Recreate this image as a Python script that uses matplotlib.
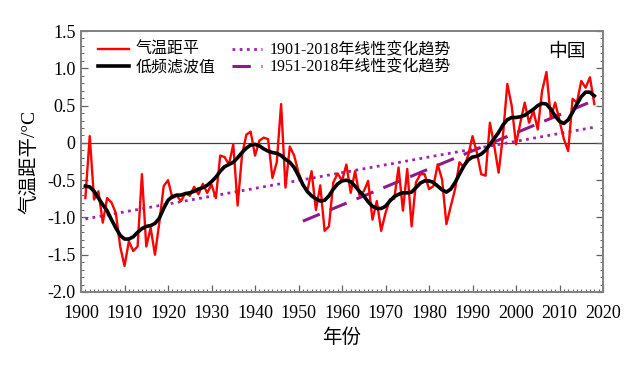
import matplotlib
matplotlib.use('Agg')
import matplotlib.pyplot as plt
from matplotlib.ticker import MultipleLocator, FixedLocator, FixedFormatter

plt.rcParams['font.family'] = ['Liberation Serif', 'Noto Sans CJK SC']
plt.rcParams['axes.unicode_minus'] = False

# Annual anomalies (red) and low-pass filtered values (black), 1901-2018
years = list(range(1901, 2019))
anomaly = [
    -0.74, 0.09, -0.76, -0.65, -1.07, -0.74, -0.80, -0.94, -1.39, -1.65,
    -1.32, -1.45, -1.39, -0.42, -1.39, -1.14, -1.50, -1.07, -0.58, -0.50,
    -0.74, -0.71, -0.78, -0.67, -0.71, -0.59, -0.69, -0.55, -0.67, -0.56,
    -0.74, -0.17, -0.19, -0.29, -0.02, -0.84, -0.17, 0.11, 0.15, -0.17,
    0.03, 0.07, 0.05, -0.47, -0.26, 0.52, -0.60, -0.05, -0.17, -0.40,
    -0.55, -0.65, -0.38, -0.90, -0.57, -1.18, -1.12, -0.53, -0.41, -0.51,
    -0.29, -0.67, -0.38, -0.70, -0.65, -0.51, -1.03, -0.78, -1.18, -0.94,
    -0.76, -0.75, -0.33, -0.91, -0.35, -1.12, -0.53, -0.42, -0.42, -0.62,
    -0.58, -0.29, -0.49, -1.09, -0.85, -0.62, -0.26, -0.33, -0.17, 0.09,
    -0.13, -0.42, -0.44, 0.27, -0.04, -0.40, 0.10, 0.79, 0.50, -0.02,
    0.27, 0.54, 0.27, 0.43, 0.18, 0.70, 0.95, 0.34, 0.54, 0.30,
    0.05, -0.11, 0.59, 0.54, 0.83, 0.74, 0.88, 0.52,
]
smoothed = [
    -0.58, -0.59, -0.65, -0.74, -0.83, -0.91, -1.03, -1.14, -1.24, -1.29,
    -1.29, -1.26, -1.20, -1.15, -1.12, -1.11, -1.08, -1.01, -0.88, -0.77,
    -0.72, -0.70, -0.70, -0.68, -0.67, -0.65, -0.62, -0.60, -0.57, -0.52,
    -0.46, -0.38, -0.32, -0.29, -0.26, -0.20, -0.13, -0.07, -0.03, -0.02,
    -0.04, -0.08, -0.11, -0.13, -0.14, -0.17, -0.22, -0.26, -0.33, -0.44,
    -0.56, -0.65, -0.71, -0.75, -0.78, -0.77, -0.71, -0.62, -0.55, -0.51,
    -0.50, -0.52, -0.58, -0.65, -0.71, -0.79, -0.85, -0.88, -0.88, -0.85,
    -0.78, -0.72, -0.69, -0.67, -0.67, -0.66, -0.60, -0.54, -0.51, -0.51,
    -0.53, -0.58, -0.63, -0.66, -0.62, -0.53, -0.42, -0.31, -0.23, -0.19,
    -0.18, -0.15, -0.10, -0.02, 0.06, 0.14, 0.24, 0.31, 0.34, 0.34,
    0.35, 0.37, 0.41, 0.45, 0.50, 0.53, 0.52, 0.45, 0.36, 0.29,
    0.26, 0.31, 0.41, 0.52, 0.62, 0.68, 0.68, 0.63,
]

# Linear trend lines (end points)
trend_all_years = [1901, 2018]
trend_all_vals = [-1.02, 0.21]
trend_recent_years = [1951, 2018]
trend_recent_vals = [-1.05, 0.57]

ytick_vals = [-2.0, -1.5, -1.0, -0.5, 0.0, 0.5, 1.0, 1.5]
ytick_labels = ['-2.0', '-1.5', '-1.0', '-0.5', '0', '0.5', '1.0', '1.5']
xtick_vals = list(range(1900, 2021, 10))

fig = plt.figure(figsize=(6.4, 3.65), dpi=100)
ax = fig.add_axes([0.1266, 0.2, 0.8156, 0.715])

ax.axhline(0, color='#404040', lw=0.9, zorder=1)
ax.plot(years, anomaly, color='#ff0000', lw=1.7, label='气温距平', zorder=3)
ax.plot(years, smoothed, color='black', lw=2.6, label='低频滤波值', zorder=4)
ax.plot(trend_all_years, trend_all_vals, color='#a020b0', lw=2.0,
        linestyle=(0, (1, 1.6)), label='1901-2018年线性变化趋势', zorder=2)
ax.plot(trend_recent_years, trend_recent_vals, color='#8b1a8b', lw=2.2,
        linestyle=(0, (6, 3.5)), label='1951-2018年线性变化趋势', zorder=2)

ax.set_xlim(1900, 2020)
ax.set_ylim(-2.0, 1.5)
ax.xaxis.set_major_locator(FixedLocator(xtick_vals))
ax.xaxis.set_minor_locator(MultipleLocator(1))
ax.yaxis.set_major_locator(FixedLocator(ytick_vals))
ax.yaxis.set_major_formatter(FixedFormatter(ytick_labels))
ax.yaxis.set_minor_locator(MultipleLocator(0.1))

ax.tick_params(which='both', direction='in', right=True, top=False,
               colors='#606060', labelcolor='black', labelsize=13)
ax.tick_params(which='major', length=5, width=0.9)
ax.tick_params(which='minor', length=2.5, width=0.7)
ax.tick_params(axis='x', pad=9)
ax.tick_params(axis='y', pad=4)
for sp in ax.spines.values():
    sp.set_color('#808080')
    sp.set_linewidth(1.4)

ax.set_xlabel('年份', fontsize=14, labelpad=5)
ax.set_ylabel('气温距平/°C', fontsize=14, labelpad=6)

ax.legend(ncol=2, loc='upper left', bbox_to_anchor=(0.012, 1.0), frameon=False,
          fontsize=11.5, handlelength=1.9, handletextpad=0.45,
          columnspacing=1.0, labelspacing=0.1, borderaxespad=0.3)

ax.text(0.966, 0.92, '中国', transform=ax.transAxes, ha='right', va='center',
        fontsize=13.5, family=['Noto Sans CJK SC'])

fig.savefig('out.png', dpi=100)
